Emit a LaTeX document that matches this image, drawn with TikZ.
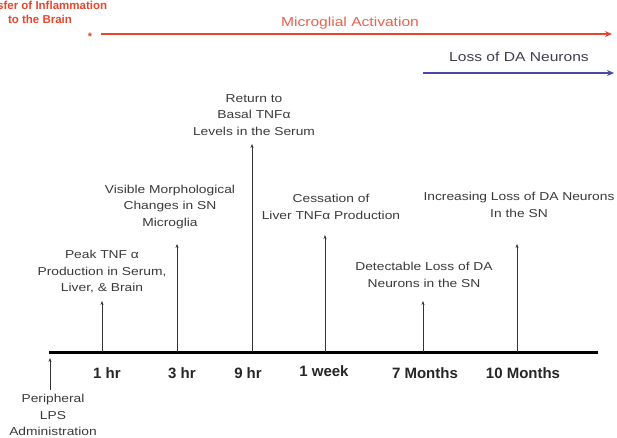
\documentclass[tikz,border=0pt]{standalone}
\usepackage{fontspec}
\setmainfont{Liberation Sans}
\newfontfamily\widefont[FakeStretch=1.2]{Liberation Sans}
\usetikzlibrary{arrows.meta}
\definecolor{redline}{HTML}{E8452C}
\definecolor{blueline}{HTML}{4A4AA6}
\definecolor{txtgray}{HTML}{3A3A3A}
\begin{document}
\begin{tikzpicture}[x=1pt,y=-1pt,
  evtext/.style={align=center,text=txtgray,font=\widefont\fontsize{11.5}{16.5}\selectfont,inner sep=0pt},
  timelbl/.style={font=\fontsize{15}{17}\selectfont\bfseries,text=black!85,inner sep=0pt},
  tick/.style={draw=black!80,line width=0.8pt,-{Stealth[length=4pt,width=3pt]}},
  axis/.style={line width=3pt,draw=black},
  band/.style={line width=2.2pt,-{Stealth[length=7pt,width=6pt]}}]
\useasboundingbox (0,0) rectangle (617,438);
% axis
\coordinate (a0) at (49,352);
\coordinate (a1) at (598,352);
\draw[axis] (a0) -- (a1);
% tick bases and tips
\coordinate (b0) at (50,390); \coordinate (t0) at (50,358);
\coordinate (b1) at (102,352); \coordinate (t1) at (102,301);
\coordinate (b2) at (177,352); \coordinate (t2) at (177,244);
\coordinate (b3) at (252,352); \coordinate (t3) at (252,144);
\coordinate (b4) at (325,352); \coordinate (t4) at (325,235);
\coordinate (b5) at (423,352); \coordinate (t5) at (423,301);
\coordinate (b6) at (517,352); \coordinate (t6) at (517,244);
\foreach \i in {0,...,6} {\draw[tick] (b\i) -- (t\i);}
% time labels
\node[timelbl] (l1) at (107,373) {1 hr};
\node[timelbl] (l2) at (182,373) {3 hr};
\node[timelbl] (l3) at (248,373) {9 hr};
\node[timelbl] (l4) at (324,371) {1 week};
\node[timelbl] (l5) at (425,373) {7 Months};
\node[timelbl] (l6) at (523,373) {10 Months};
% event texts
\node[evtext] (e0) at (53,415) {Peripheral\\LPS\\Administration};
\node[evtext] (e1) at (102,272) {Peak TNF α\\Production in Serum,\\Liver, \& Brain};
\node[evtext] (e2) at (170,207) {Visible Morphological\\Changes in SN\\Microglia};
\node[evtext] (e3) at (254,115) {Return to\\Basal TNFα\\Levels in the Serum};
\node[evtext] (e4) at (331,207) {Cessation of\\Liver TNFα Production};
\node[evtext] (e5) at (424,275) {Detectable Loss of DA\\Neurons in the SN};
\node[evtext] (e6) at (519,205) {Increasing Loss of DA Neurons\\In the SN};
% top bands
\node[align=center,text=redline,font=\fontsize{11.5}{14}\selectfont\bfseries,inner sep=0pt] (tr) at (40,12) {Transfer of Inflammation\\to the Brain};
\node[text=redline,font=\fontsize{11}{12}\selectfont\bfseries,inner sep=0pt] (star) at (90,37) {*};
\coordinate (r0) at (101,34); \coordinate (r1) at (612,34);
\draw[band,draw=redline,fill=redline] (r0) -- (r1);
\node[text=redline!85,font=\widefont\fontsize{13}{15}\selectfont,inner sep=0pt] (ma) at (350,23) {Microglial Activation};
\coordinate (u0) at (423,73); \coordinate (u1) at (614,73);
\draw[band,draw=blueline,fill=blueline] (u0) -- (u1);
\node[text=txtgray!80!blueline,font=\widefont\fontsize{13}{15}\selectfont,inner sep=0pt] (ld) at (519,57) {Loss of DA Neurons};
\end{tikzpicture}
\end{document}
